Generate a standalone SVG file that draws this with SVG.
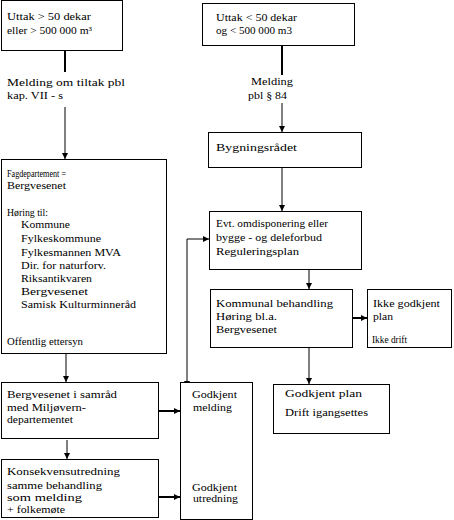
<svg xmlns="http://www.w3.org/2000/svg" width="454" height="520" viewBox="0 0 454 520">
<style>
.box{fill:#fff;stroke:#000;stroke-width:1}
text{font-family:"Liberation Serif","Times New Roman",serif;font-size:11px;fill:#000}
.ln{fill:none;stroke:#000;stroke-width:1}
.th{fill:none;stroke:#000;stroke-width:2}
</style>
<defs>
<marker id="ah" viewBox="0 0 6 6" refX="6" refY="3" markerWidth="6" markerHeight="6" markerUnits="userSpaceOnUse" orient="auto">
<path d="M0,0 L6,3 L0,6 Z" fill="#000"/>
</marker>
<marker id="as" viewBox="0 0 6 6" refX="0" refY="3" markerWidth="6" markerHeight="6" markerUnits="userSpaceOnUse" orient="auto-start-reverse">
<path d="M0,0 L6,3 L0,6 Z" fill="#000"/>
</marker>
</defs>
<rect width="454" height="520" fill="#fff"/>
<g id="connectors">
<line class="th" x1="65" y1="51" x2="65" y2="72"/>
<text x="7" y="86" textLength="118" lengthAdjust="spacingAndGlyphs">Melding  om  tiltak  pbl</text>
<text x="7" y="99" textLength="56" lengthAdjust="spacingAndGlyphs">kap.  VII  -  s</text>
<line class="ln" x1="65" y1="107" x2="65" y2="159" marker-end="url(#ah)"/>
<line class="th" x1="282" y1="45" x2="282" y2="75"/>
<text x="251" y="85" textLength="42" lengthAdjust="spacingAndGlyphs">Melding</text>
<text x="248" y="99" textLength="39" lengthAdjust="spacingAndGlyphs">pbl § 84</text>
<line class="ln" x1="282" y1="103" x2="282" y2="132" marker-end="url(#ah)"/>
<line class="ln" x1="282" y1="167" x2="282" y2="211" marker-end="url(#ah)"/>
<line class="ln" x1="309" y1="269" x2="309" y2="289" marker-end="url(#ah)"/>
<line class="th" x1="352" y1="318" x2="367" y2="318" marker-end="url(#ah)"/>
<line class="ln" x1="309" y1="347" x2="309" y2="384" marker-end="url(#ah)"/>
<line class="ln" x1="66" y1="353" x2="66" y2="382" marker-end="url(#ah)"/>
<line class="ln" x1="67" y1="440" x2="67" y2="459" marker-end="url(#ah)"/>
<line class="th" x1="158" y1="411" x2="180" y2="411" marker-end="url(#ah)"/>
<line class="th" x1="158" y1="497" x2="180" y2="497" marker-end="url(#ah)"/>
<path class="ln" d="M187,381 L187,239 L209,239" marker-start="url(#as)" marker-end="url(#ah)"/>
</g>
<g id="n1">
<rect class="box" x="1.5" y="0.5" width="121" height="50"/>
<text x="7" y="20" textLength="84" lengthAdjust="spacingAndGlyphs">Uttak &gt; 50 dekar</text>
<text x="7" y="34" textLength="85" lengthAdjust="spacingAndGlyphs">eller &gt; 500 000 m³</text>
</g>
<g id="n2">
<rect class="box" x="202.5" y="3.5" width="152" height="42"/>
<text x="216" y="21" textLength="81" lengthAdjust="spacingAndGlyphs">Uttak &lt; 50 dekar</text>
<text x="216" y="34" textLength="76" lengthAdjust="spacingAndGlyphs">og &lt; 500 000 m3</text>
</g>
<g id="n3">
<rect class="box" x="208.5" y="132.5" width="153" height="35"/>
<text x="216" y="151" textLength="81" lengthAdjust="spacingAndGlyphs">Bygningsrådet</text>
</g>
<g id="n4">
<rect class="box" x="1.5" y="159.5" width="165" height="194"/>
<text x="7" y="177" textLength="59" lengthAdjust="spacingAndGlyphs">Fagdepartement =</text>
<text x="7" y="189" textLength="59" lengthAdjust="spacingAndGlyphs">Bergvesenet</text>
<text x="7" y="216" textLength="41" lengthAdjust="spacingAndGlyphs">Høring  til:</text>
<text x="21" y="228" textLength="49" lengthAdjust="spacingAndGlyphs">Kommune</text>
<text x="21" y="242" textLength="80" lengthAdjust="spacingAndGlyphs">Fylkeskommune</text>
<text x="21" y="256" textLength="100" lengthAdjust="spacingAndGlyphs">Fylkesmannen MVA</text>
<text x="21" y="269" textLength="85" lengthAdjust="spacingAndGlyphs">Dir. for naturforv.</text>
<text x="21" y="282" textLength="71" lengthAdjust="spacingAndGlyphs">Riksantikvaren</text>
<text x="21" y="295" textLength="67" lengthAdjust="spacingAndGlyphs">Bergvesenet</text>
<text x="21" y="308" textLength="115" lengthAdjust="spacingAndGlyphs">Samisk Kulturminneråd</text>
<text x="7" y="345" textLength="76" lengthAdjust="spacingAndGlyphs">Offentlig  ettersyn</text>
</g>
<g id="n5">
<rect class="box" x="209.5" y="211.5" width="152" height="58"/>
<text x="216" y="227" textLength="112" lengthAdjust="spacingAndGlyphs">Evt. omdisponering  eller</text>
<text x="216" y="241" textLength="106" lengthAdjust="spacingAndGlyphs">bygge - og deleforbud</text>
<text x="216" y="255" textLength="83" lengthAdjust="spacingAndGlyphs">Reguleringsplan</text>
</g>
<g id="n6">
<rect class="box" x="210.5" y="289.5" width="142" height="58"/>
<text x="216" y="307" textLength="117" lengthAdjust="spacingAndGlyphs">Kommunal behandling</text>
<text x="216" y="320" textLength="61" lengthAdjust="spacingAndGlyphs">Høring  bl.a.</text>
<text x="216" y="333" textLength="61" lengthAdjust="spacingAndGlyphs">Bergvesenet</text>
</g>
<g id="n7">
<rect class="box" x="367.5" y="289.5" width="84" height="58"/>
<text x="373" y="307" textLength="67" lengthAdjust="spacingAndGlyphs">Ikke godkjent</text>
<text x="373" y="320" textLength="20" lengthAdjust="spacingAndGlyphs">plan</text>
<text x="372" y="343" textLength="35" lengthAdjust="spacingAndGlyphs">Ikke drift</text>
</g>
<g id="n8">
<rect class="box" x="273.5" y="384.5" width="116" height="49"/>
<text x="285" y="397" textLength="77" lengthAdjust="spacingAndGlyphs">Godkjent plan</text>
<text x="285" y="416" textLength="83" lengthAdjust="spacingAndGlyphs">Drift  igangsettes</text>
</g>
<g id="n9">
<rect class="box" x="1.5" y="382.5" width="157" height="56"/>
<text x="7" y="398" textLength="110" lengthAdjust="spacingAndGlyphs">Bergvesenet  i samråd</text>
<text x="7" y="411" textLength="79" lengthAdjust="spacingAndGlyphs">med  Miljøvern-</text>
<text x="7" y="423" textLength="66" lengthAdjust="spacingAndGlyphs">departementet</text>
</g>
<g id="n10">
<rect class="box" x="1.5" y="459.5" width="157" height="58"/>
<text x="7" y="475" textLength="113" lengthAdjust="spacingAndGlyphs">Konsekvensutredning</text>
<text x="7" y="489" textLength="95" lengthAdjust="spacingAndGlyphs">samme  behandling</text>
<text x="7" y="501" textLength="75" lengthAdjust="spacingAndGlyphs">som  melding</text>
<text x="7" y="513" textLength="58" lengthAdjust="spacingAndGlyphs">+  folkemøte</text>
</g>
<g id="n11">
<rect class="box" x="180.5" y="382.5" width="72" height="137"/>
<text x="192" y="398" textLength="45" lengthAdjust="spacingAndGlyphs">Godkjent</text>
<text x="193" y="411" textLength="39" lengthAdjust="spacingAndGlyphs">melding</text>
<text x="192" y="491" textLength="45" lengthAdjust="spacingAndGlyphs">Godkjent</text>
<text x="193" y="502" textLength="45" lengthAdjust="spacingAndGlyphs">utredning</text>
</g>
</svg>
